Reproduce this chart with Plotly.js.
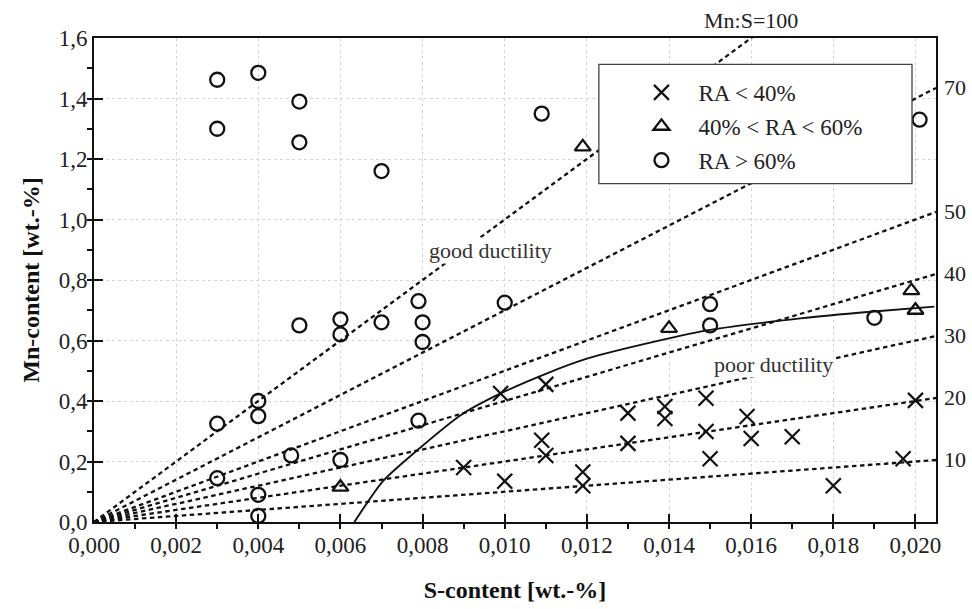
<!DOCTYPE html>
<html>
<head>
<meta charset="utf-8">
<script src="https://cdn.plot.ly/plotly-3.0.1.min.js"></script>
<style>html,body{margin:0;padding:0;background:#fff;}#chart{width:972px;height:609px;}</style>
</head>
<body>
<div id="chart"></div>
<script>
// ---- data ----
var crossS  = [0.0099,0.0110,0.0109,0.0110,0.0090,0.0100,0.0119,0.0119,0.0130,0.0130,0.0139,0.0139,0.0149,0.0149,0.0150,0.0159,0.0160,0.0170,0.0180,0.0197,0.0200];
var crossMn = [0.425,0.455,0.270,0.220,0.180,0.135,0.165,0.120,0.360,0.260,0.382,0.342,0.409,0.299,0.209,0.349,0.276,0.282,0.120,0.209,0.402];

var triS  = [0.0119,0.0140,0.0199,0.0200,0.0060];
var triMn = [1.240,0.640,0.765,0.700,0.115];

var circS  = [0.0030,0.0030,0.0040,0.0050,0.0050,0.0070,0.0109,0.0201,0.0050,0.0060,0.0060,0.0070,0.0079,0.0080,0.0080,0.0100,0.0150,0.0150,0.0190,0.0030,0.0040,0.0040,0.0048,0.0060,0.0079,0.0030,0.0040,0.0040];
var circMn = [1.462,1.300,1.485,1.390,1.255,1.160,1.350,1.330,0.650,0.670,0.620,0.660,0.730,0.660,0.595,0.725,0.720,0.650,0.675,0.325,0.400,0.350,0.220,0.205,0.335,0.145,0.090,0.020];

var curveS  = [0.00634,0.00702,0.00792,0.00897,0.00990,0.01100,0.01200,0.01370,0.01500,0.01720,0.01890,0.02046];
var curveMn = [0.000,0.133,0.243,0.357,0.425,0.490,0.540,0.598,0.635,0.673,0.695,0.712];

var ratios = [100,70,50,40,30,20,10];
var ratioLabels = ['','70','50','40','30','20','10'];

var xTickVals = [0,0.002,0.004,0.006,0.008,0.010,0.012,0.014,0.016,0.018,0.020];
var xTickText = ['0,000','0,002','0,004','0,006','0,008','0,010','0,012','0,014','0,016','0,018','0,020'];
var yTickVals = [0,0.2,0.4,0.6,0.8,1.0,1.2,1.4,1.6];
var yTickText = ['0,0','0,2','0,4','0,6','0,8','1,0','1,2','1,4','1,6'];

var xMax = 0.0205, yMax = 1.6;
var serif = '"Liberation Serif", "DejaVu Serif", "Times New Roman", Times, serif';

var traces = [];
ratios.forEach(function(r){
  traces.push({x:[0,xMax], y:[0,r*xMax], mode:'lines', showlegend:false, hoverinfo:'skip',
    line:{color:'#111', width:2.3, dash:'4.5px,3.5px'}});
});
traces.push({x:curveS, y:curveMn, mode:'lines', showlegend:false, line:{color:'#111', width:1.9, shape:'spline', smoothing:0.6}});
traces.push({x:crossS, y:crossMn, mode:'markers', name:'RA &lt; 40%', legendgroup:'a',
  marker:{symbol:'x-thin-open', size:15, color:'#111', line:{width:2.2, color:'#111'}}});
traces.push({x:triS, y:triMn, mode:'markers', name:'40% &lt; RA &lt; 60%', legendgroup:'b',
  marker:{symbol:'triangle-up-open', size:14, color:'#111', line:{width:2.3, color:'#111'}}});
traces.push({x:circS, y:circMn, mode:'markers', name:'RA &gt; 60%', legendgroup:'c',
  marker:{symbol:'circle-open', size:14, color:'#111', line:{width:2.3, color:'#111'}}});

var annotations = [];
ratios.forEach(function(r,i){
  if (ratioLabels[i]) annotations.push({x:xMax, y:r*xMax, xref:'x', yref:'y', text:ratioLabels[i],
    showarrow:false, xanchor:'left', xshift:6, font:{family:serif, size:22, color:'#222'}});
});
annotations.push({x:yMax/100, y:yMax, xref:'x', yref:'y', text:'Mn:S=100', showarrow:false,
  yanchor:'bottom', yshift:3, font:{family:serif, size:22, color:'#222'}});
annotations.push({x:0.00965, y:0.897, xref:'x', yref:'y', text:'good ductility', showarrow:false,
  bgcolor:'#fff', borderpad:0, font:{family:serif, size:22, color:'#333'}});
annotations.push({x:0.01654, y:0.522, xref:'x', yref:'y', text:'poor ductility', showarrow:false,
  bgcolor:'#fff', borderpad:0, font:{family:serif, size:22, color:'#333'}});

var layout = {
  width:972, height:609,
  margin:{l:94, r:36, t:38, b:87},
  paper_bgcolor:'#fff', plot_bgcolor:'#fff',
  font:{family:serif, size:23, color:'#222'},
  xaxis:{range:[0,xMax], tickvals:xTickVals, ticktext:xTickText, ticks:'inside', ticklen:8, tickwidth:2, tickcolor:'#111',
    minor:{dtick:0.001, ticklen:5, tickwidth:2, tickcolor:'#111', showgrid:false},
    showline:true, linewidth:2, linecolor:'#111', mirror:true, zeroline:false,
    showgrid:true, gridcolor:'#d6d6d6', gridwidth:1, griddash:'dot',
    tickfont:{family:serif, size:23, color:'#222'}, ticklabelstandoff:1,
    title:{text:'<b>S-content [wt.-%]</b>', standoff:25, font:{family:serif, size:24, color:'#111'}}},
  yaxis:{range:[0,yMax], tickvals:yTickVals, ticktext:yTickText, ticks:'inside', ticklen:9, tickwidth:2, tickcolor:'#111',
    minor:{dtick:0.1, ticklen:5, tickwidth:2, tickcolor:'#111', showgrid:false},
    showline:true, linewidth:2, linecolor:'#111', mirror:true, zeroline:false,
    showgrid:true, gridcolor:'#d6d6d6', gridwidth:1, griddash:'dot',
    tickfont:{family:serif, size:23, color:'#222'},
    title:{text:'<b>Mn-content [wt.-%]</b>', standoff:12, font:{family:serif, size:24, color:'#111'}}},
  showlegend:true,
  legend:{x:0.63, y:0.932, xanchor:'left', yanchor:'top', bgcolor:'rgba(0,0,0,0)', borderwidth:0,
    traceorder:'grouped', tracegroupgap:1, itemwidth:64,
    font:{family:serif, size:23, color:'#222'}},
  shapes:[{type:'rect', xref:'paper', yref:'paper', x0:0.5996, x1:0.9715, y0:0.699, y1:0.9454,
    fillcolor:'#fff', line:{color:'#444', width:1.3}, layer:'above'}],
  annotations:annotations
};

Plotly.newPlot('chart', traces, layout, {displayModeBar:false, staticPlot:true});
</script>
</body>
</html>
